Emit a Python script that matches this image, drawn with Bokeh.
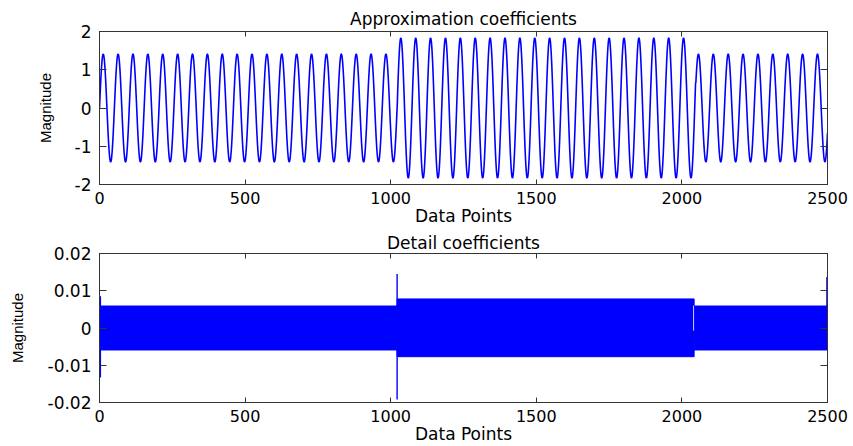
import numpy as np
from bokeh.plotting import figure
from bokeh.layouts import column
from bokeh.models import LinearAxis, FixedTicker, Range1d, ColumnDataSource
from bokeh.embed import file_html
from bokeh.resources import INLINE

# ---------------- data ----------------
# Approximation coefficients: piecewise sinusoid, amplitude per segment
approx_seg_start = [0, 1024, 2048]
approx_seg_end = [1024, 2048, 2501]
approx_seg_amplitude = [1.41, 1.83, 1.41]
approx_period = 51.1          # data points per cycle (from peak spacing)

# Detail coefficients: dense high-frequency band, envelope per segment
detail_band_start = [0, 1022, 2042]
detail_band_end = [1022, 2042, 2500]
detail_band_top = [0.0059, 0.0078, 0.0059]
detail_band_bottom = [-0.0059, -0.0077, -0.0059]

# isolated spikes
detail_spike_x = [3, 1022, 2498]
detail_spike_top = [0.0085, 0.0145, 0.0137]
detail_spike_bottom = [-0.0133, -0.0192, 0.0]

# thin gap in the band at the second transition
detail_gap_x = [2040]
detail_gap_top = [0.0060]
detail_gap_bottom = [-0.0007]

x_ticks = [0, 500, 1000, 1500, 2000, 2500]
approx_y_ticks = [-2, -1, 0, 1, 2]
approx_y_labels = ["-2", "-1", "0", "1", "2"]
detail_y_ticks = [-0.02, -0.01, 0, 0.01, 0.02]
detail_y_labels = ["-0.02", "-0.01", "0", "0.01", "0.02"]

# ---------------- build approximation signal ----------------
t = np.arange(0, 2501)
amp = np.zeros_like(t, dtype=float)
for s, e, a in zip(approx_seg_start, approx_seg_end, approx_seg_amplitude):
    amp[(t >= s) & (t < e)] = a
approx_y = amp * np.sin(2 * np.pi * t / approx_period)

FONT = "DejaVu Sans"
AXC = "#333333"
BLUE = "#0000ff"


def style(p, yticks, ylabels, ylabel_standoff):
    p.title.text_font = FONT
    p.title.text_font_size = "17px"
    p.title.text_font_style = "normal"
    p.title.align = "center"
    p.title.text_color = "black"
    p.xgrid.visible = False
    p.ygrid.visible = False
    p.outline_line_color = AXC
    p.background_fill_color = "white"
    p.border_fill_color = "white"

    xa = p.xaxis[0]
    xa.ticker = FixedTicker(ticks=x_ticks)
    xa.axis_label = "Data Points"
    xa.axis_label_text_font = FONT
    xa.axis_label_text_font_size = "17px"
    xa.axis_label_text_font_style = "normal"
    xa.axis_label_text_color = "black"
    xa.axis_label_standoff = -1
    xa.major_label_text_font = FONT
    xa.major_label_text_font_size = "16px"
    xa.major_label_text_color = "black"
    xa.major_label_standoff = 7
    xa.major_tick_in = 5
    xa.major_tick_out = 0
    xa.minor_tick_line_color = None
    xa.axis_line_color = AXC
    xa.major_tick_line_color = AXC

    ya = p.yaxis[0]
    ya.ticker = FixedTicker(ticks=yticks)
    ya.major_label_overrides = {k: v for k, v in zip(yticks, ylabels)}
    ya.axis_label = "Magnitude"
    ya.axis_label_text_font = "Liberation Sans"
    ya.axis_label_text_font_size = "15px"
    ya.axis_label_text_font_style = "normal"
    ya.axis_label_text_color = "black"
    ya.axis_label_standoff = ylabel_standoff
    ya.major_label_text_font = FONT
    ya.major_label_text_font_size = "17px"
    ya.major_label_text_color = "black"
    ya.major_label_standoff = 8
    ya.major_tick_in = 7
    ya.major_tick_out = 0
    ya.minor_tick_line_color = None
    ya.axis_line_color = AXC
    ya.major_tick_line_color = AXC

    top = LinearAxis(ticker=FixedTicker(ticks=x_ticks), major_tick_in=5, major_tick_out=0,
                     minor_tick_line_color=None, major_label_text_font_size="0px",
                     major_label_text_color=None,
                     major_label_standoff=0, axis_line_color=AXC, major_tick_line_color=AXC)
    right = LinearAxis(ticker=FixedTicker(ticks=yticks), major_tick_in=7, major_tick_out=0,
                       minor_tick_line_color=None, major_label_text_font_size="0px",
                       major_label_text_color=None,
                       major_label_standoff=0, axis_line_color=AXC, major_tick_line_color=AXC)
    p.add_layout(top, "above")
    p.add_layout(right, "right")


# ---------------- top figure ----------------
p1 = figure(width=853, height=229, output_backend="svg", toolbar_location=None,
            title="Approximation coefficients",
            x_range=Range1d(0, 2500), y_range=Range1d(-2, 2),
            min_border_left=99, min_border_right=26, min_border_top=31, min_border_bottom=45)
p1.title.standoff = 6
style(p1, approx_y_ticks, approx_y_labels, 18)
p1.line(t, approx_y, line_color=BLUE, line_width=1.6)

# ---------------- bottom figure ----------------
p2 = figure(width=853, height=217, output_backend="svg", toolbar_location=None,
            title="Detail coefficients",
            x_range=Range1d(0, 2500), y_range=Range1d(-0.02, 0.02),
            min_border_left=99, min_border_right=26, min_border_top=22, min_border_bottom=42)
p2.title.standoff = 2
style(p2, detail_y_ticks, detail_y_labels, 19)
p2.xaxis[0].major_label_standoff = 5
band = ColumnDataSource(dict(left=detail_band_start, right=detail_band_end,
                             top=detail_band_top, bottom=detail_band_bottom))
p2.quad(left="left", right="right", top="top", bottom="bottom", source=band,
        fill_color=BLUE, line_color=BLUE, line_width=1)
spikes = ColumnDataSource(dict(x=detail_spike_x, y0=detail_spike_bottom, y1=detail_spike_top))
p2.segment(x0="x", y0="y0", x1="x", y1="y1", source=spikes, line_color=BLUE, line_width=1.4)
gap = ColumnDataSource(dict(x=detail_gap_x, y0=detail_gap_bottom, y1=detail_gap_top))
p2.segment(x0="x", y0="y0", x1="x", y1="y1", source=gap, line_color="#c8c8ff", line_width=1)

layout = column(p1, p2, spacing=0)
open("out.html", "w").write(file_html(layout, INLINE))
